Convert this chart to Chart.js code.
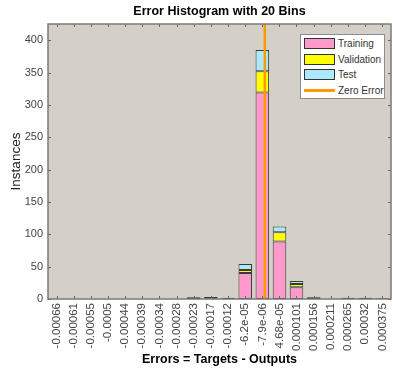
<!DOCTYPE html>
<html>
<head>
<meta charset="utf-8">
<script src="https://cdn.jsdelivr.net/npm/chart.js@4/dist/chart.umd.min.js"></script>
<style>
  html, body { margin: 0; padding: 0; background: #fff; }
  #wrap { position: relative; width: 393px; height: 372px; }
  #legend {
    position: absolute;
    background: #fff;
    border: 1px solid #8c8c8c;
    box-sizing: border-box;
    padding: 1px 3px;
    font: 10px "Liberation Sans", Arial, sans-serif;
    color: #333;
    white-space: nowrap;
  }
  .row { display: flex; align-items: center; height: 15.5px; }
  .sw { width: 31px; height: 11px; box-sizing: border-box; border: 1px solid #333; margin-right: 3px; flex: none; }
  .ln { width: 31px; height: 2.5px; margin-right: 3px; flex: none; }
</style>
</head>
<body>
<div id="wrap">
  <canvas id="errHist" width="393" height="372"></canvas>
  <div id="legend"></div>
</div>
<script>
// bin centres (error values) and their printed tick labels
const binCenters = [-0.000664, -0.000609, -0.000555, -0.000500, -0.000445, -0.000391, -0.000336, -0.000281,
  -0.000227, -0.000172, -0.000117, -0.0000624, -0.0000079, 0.0000468, 0.000101, 0.000156,
  0.000211, 0.000265, 0.000320, 0.000375];
const tickLabels = ["-0.00066", "-0.00061", "-0.00055", "-0.0005", "-0.00044", "-0.00039", "-0.00034", "-0.00028",
  "-0.00023", "-0.00017", "-0.00012", "-6.2e-05", "-7.9e-06", "4.68e-05", "0.000101", "0.000156",
  "0.000211", "0.000265", "0.00032", "0.000375"];

// instances per bin
const training   = [0, 0, 0, 0, 0, 0, 0, 0, 2, 1, 2, 40, 319, 89, 18, 2, 0, 2, 2, 1];
const validation = [0, 0, 0, 0, 0, 0, 0, 0, 0, 2, 0, 5, 33, 14, 5, 1, 0, 0, 0, 0];
const test       = [0, 0, 0, 0, 0, 0, 0, 0, 1, 0, 0, 9, 33, 9, 5, 0, 0, 0, 0, 0];

const zeroError = [0, 0];
const yTop = 425;

const binStep = (binCenters[binCenters.length - 1] - binCenters[0]) / (binCenters.length - 1);
const toPoints = arr => arr.map((v, i) => ({ x: binCenters[i], y: v }));

// grey plot background, box outline and inward tick marks (MATLAB look)
const axesBox = {
  id: "axesBox",
  beforeDatasetsDraw(chart) {
    const { ctx, chartArea: a } = chart;
    ctx.save();
    ctx.fillStyle = "#d4d0c8";
    ctx.fillRect(a.left, a.top, a.width, a.height);
    ctx.restore();
  },
  afterDatasetsDraw(chart) {
    const { ctx, chartArea: a, scales } = chart;
    ctx.save();
    ctx.strokeStyle = "#666";
    ctx.lineWidth = 1;
    ctx.beginPath();
    scales.y.ticks.forEach(t => {
      const py = Math.round(scales.y.getPixelForValue(t.value)) + 0.5;
      ctx.moveTo(a.left, py); ctx.lineTo(a.left + 3, py);
      ctx.moveTo(a.right, py); ctx.lineTo(a.right - 3, py);
    });
    scales.x.ticks.forEach(t => {
      const px = Math.round(scales.x.getPixelForValue(t.value)) + 0.5;
      ctx.moveTo(px, a.bottom); ctx.lineTo(px, a.bottom - 3);
      ctx.moveTo(px, a.top); ctx.lineTo(px, a.top + 3);
    });
    ctx.stroke();
    ctx.lineWidth = 1.5;
    ctx.strokeStyle = "#7a7a7a";
    ctx.strokeRect(a.left, a.top, a.width, a.height);
    ctx.restore();
  }
};

const barStyle = { borderColor: "#3a3a3a", borderWidth: 1, borderSkipped: false, barPercentage: 0.8, categoryPercentage: 1 };

const chart = new Chart(document.getElementById("errHist"), {
  type: "bar",
  data: {
    datasets: [
      {
        type: "line",
        label: "Zero Error",
        data: zeroError.map((x, i) => ({ x, y: i === 0 ? 0 : yTop })),
        borderColor: "#ff9900",
        borderWidth: 2.5,
        pointRadius: 0
      },
      Object.assign({ label: "Training", data: toPoints(training), backgroundColor: "#ff99cc" }, barStyle),
      Object.assign({ label: "Validation", data: toPoints(validation), backgroundColor: "#ffff00" }, barStyle),
      Object.assign({ label: "Test", data: toPoints(test), backgroundColor: "#aae8fa" }, barStyle)
    ]
  },
  options: {
    responsive: false,
    animation: false,
    devicePixelRatio: 1,
    layout: { padding: { left: 0, right: 2, top: 0, bottom: 0 } },
    plugins: {
      legend: { display: false },
      tooltip: { enabled: false },
      title: {
        display: true,
        text: "Error Histogram with 20 Bins",
        fullSize: false,
        color: "#000",
        font: { family: "'Liberation Sans', Arial, sans-serif", size: 12.5, weight: "bold" },
        padding: { top: 4, bottom: 5 }
      }
    },
    scales: {
      x: {
        type: "linear",
        stacked: true,
        offset: false,
        min: binCenters[0] - binStep / 2,
        max: binCenters[binCenters.length - 1] + binStep / 2,
        afterBuildTicks: s => { s.ticks = binCenters.map(v => ({ value: v })); },
        afterFit: s => { s.height = 73; s.paddingLeft = 0; s.paddingRight = 0; },
        grid: { display: false, drawTicks: false },
        border: { display: false },
        ticks: {
          autoSkip: false,
          minRotation: 90,
          maxRotation: 90,
          padding: 4,
          color: "#444",
          font: { family: "'Liberation Sans', Arial, sans-serif", size: 11.5 },
          callback: (v, i) => tickLabels[i]
        },
        title: {
          display: true,
          text: "Errors = Targets - Outputs",
          color: "#000",
          font: { family: "'Liberation Sans', Arial, sans-serif", size: 12.5, weight: "bold" },
          padding: { top: 0, bottom: 5 }
        }
      },
      y: {
        stacked: true,
        min: 0,
        max: yTop,
        afterFit: s => { s.width = 48; s.paddingTop = 0; s.paddingBottom = 0; },
        grid: { display: false, drawTicks: false },
        border: { display: false },
        ticks: {
          stepSize: 50,
          includeBounds: false,
          padding: 5,
          color: "#444",
          font: { family: "'Liberation Sans', Arial, sans-serif", size: 11 }
        },
        title: {
          display: true,
          text: "Instances",
          color: "#222",
          font: { family: "'Liberation Sans', Arial, sans-serif", size: 13.5 },
          padding: { top: 8, bottom: 0 }
        }
      }
    }
  },
  plugins: [axesBox]
});

// legend box drawn inside the top-right of the axes
const legend = document.getElementById("legend");
const a = chart.chartArea;
legend.style.left = (a.right - 91) + "px";
legend.style.top = (a.top + 10) + "px";
legend.style.width = "85px";
legend.style.height = "65px";
chart.data.datasets.slice(1).concat(chart.data.datasets.slice(0, 1)).forEach(ds => {
  const row = document.createElement("div");
  row.className = "row";
  const mark = document.createElement("div");
  if (ds.type === "line") {
    mark.className = "ln";
    mark.style.background = ds.borderColor;
  } else {
    mark.className = "sw";
    mark.style.background = ds.backgroundColor;
  }
  const txt = document.createElement("span");
  txt.textContent = ds.label;
  row.appendChild(mark);
  row.appendChild(txt);
  legend.appendChild(row);
});
</script>
</body>
</html>
